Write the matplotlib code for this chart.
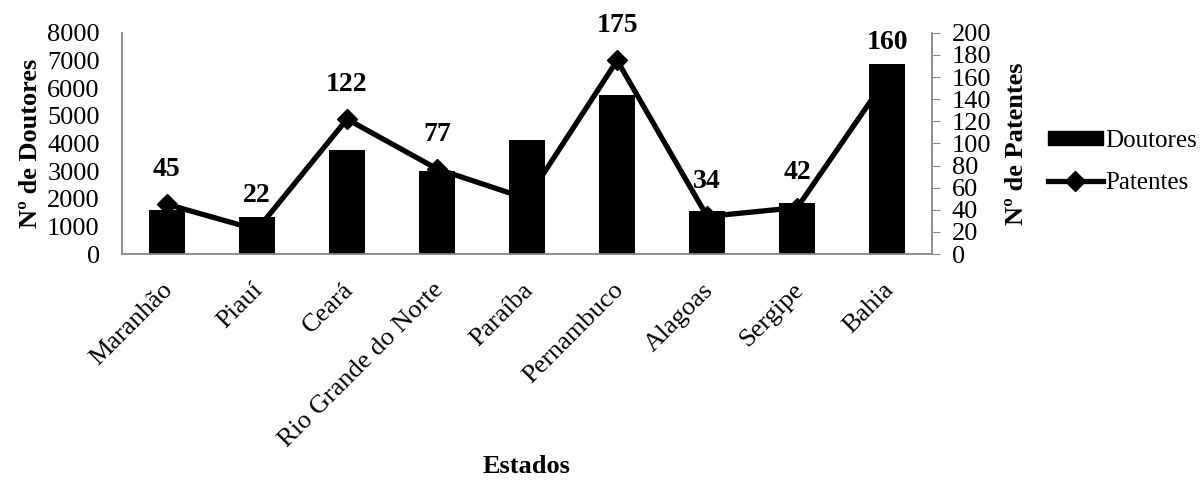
import matplotlib.pyplot as plt
import matplotlib.transforms as mtransforms
import numpy as np
from matplotlib.lines import Line2D
from matplotlib.patches import Patch

plt.rcParams["font.family"] = ["Liberation Serif", "DejaVu Serif"]

# Doutores e patentes por estado do Nordeste
estados = ["Maranhão", "Piauí", "Ceará", "Rio Grande do Norte", "Paraíba",
           "Pernambuco", "Alagoas", "Sergipe", "Bahia"]
doutores = [1600, 1350, 3770, 3000, 4110, 5740, 1570, 1830, 6860]
patentes = [45, 22, 122, 77, 50, 175, 34, 42, 160]
# Paraíba fica sem rótulo
rotulos = ["45", "22", "122", "77", "", "175", "34", "42", "160"]

gray = "#8c8c8c"
fs = 19

fig = plt.figure(figsize=(12.04, 4.83), dpi=100)
ax = fig.add_axes([0.1013, 0.474, 0.673, 0.458])
ax2 = ax.twinx()

x = np.arange(len(estados))
# line goes behind the bars
ax.set_zorder(ax2.get_zorder() + 1)
ax.patch.set_visible(False)
ax.bar(x, doutores, width=0.4, color="black")
ax2.plot(x, patentes, color="black", lw=3.8, marker="D", ms=10)
for xi, p, r in zip(x, patentes, rotulos):
    if r:
        ax2.annotate(r, (xi, p), xytext=(0, 25), textcoords="offset points",
                     ha="center", va="center", fontsize=20, fontweight="bold")

ax.set_xlim(-0.5, len(estados) - 0.5)
ax.set_ylim(0, 8000)
ax.set_yticks(np.arange(0, 8001, 1000))
ax2.set_ylim(0, 200)
ax2.set_yticks(np.arange(0, 201, 20))

ax.set_xticks(x)
ax.set_xticklabels(estados, rotation=45, ha="right", rotation_mode="anchor",
                   fontsize=fs)
ax.tick_params(axis="x", length=0, pad=18)
shift = mtransforms.ScaledTranslation(-5 / 100, 0, fig.dpi_scale_trans)
for lbl in ax.get_xticklabels():
    lbl.set_transform(lbl.get_transform() + shift)
ax.tick_params(axis="y", length=0, labelsize=fs, pad=16)
ax2.tick_params(axis="y", length=6, color=gray, labelsize=fs, pad=8)

for a in (ax, ax2):
    a.spines["top"].set_visible(False)
    for s in ("left", "right", "bottom"):
        a.spines[s].set_color(gray)
        a.spines[s].set_linewidth(1.2)

ax.set_ylabel("Nº de Doutores", fontsize=fs, fontweight="bold", labelpad=4)
ax2.set_ylabel("Nº de Patentes", fontsize=fs, fontweight="bold", labelpad=10)
fig.text(0.4375, 0.035, "Estados", ha="center", va="center",
         fontsize=fs, fontweight="bold")

handles = [Patch(facecolor="black", edgecolor="black"),
           Line2D([], [], color="black", lw=3.8, marker="D", ms=10)]
fig.legend(handles, ["Doutores", "Patentes"], loc="center left",
           bbox_to_anchor=(0.862, 0.665), frameon=False, fontsize=18,
           handlelength=2.2, handleheight=0.45, handletextpad=0.1,
           labelspacing=0.8, borderaxespad=0)

fig.savefig("out.png", dpi=100)
